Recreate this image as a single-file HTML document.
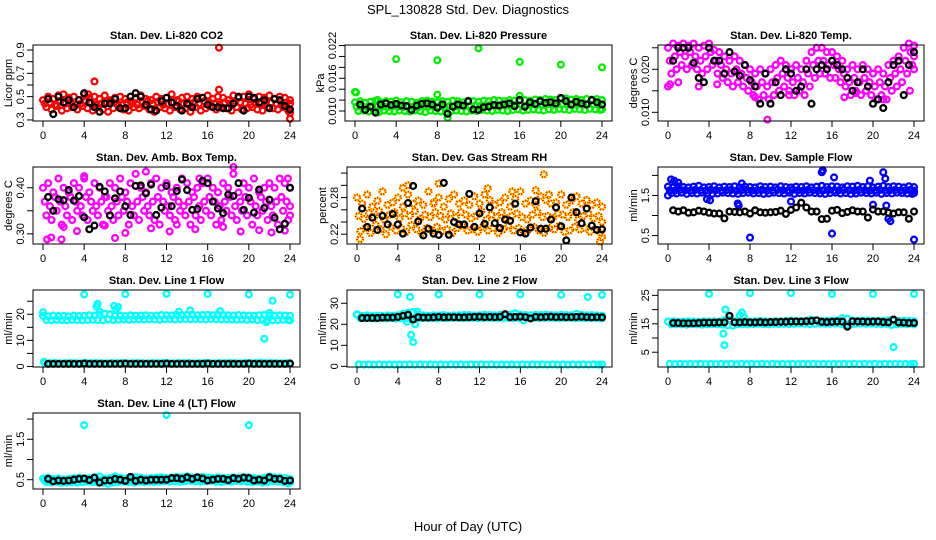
<!DOCTYPE html>
<html><head><meta charset="utf-8"><style>
html,body{margin:0;padding:0;background:#fff;width:936px;height:540px;overflow:hidden}
svg{display:block;font-family:"Liberation Sans",sans-serif}
</style></head><body>
<svg id="chart" width="936" height="540" viewBox="0 0 936 540">
<text x="468" y="14" font-size="13" text-anchor="middle">SPL_130828  Std. Dev. Diagnostics</text>
<text x="468" y="531" font-size="13" text-anchor="middle">Hour of Day (UTC)</text>
</svg>
<script>
// ---- data ----
const xTicks=[0,4,8,12,16,20,24];
// CO2
const co2A=[0.47,0.50,0.48,0.51,0.52,0.49,0.50,0.47,0.52,0.49,0.50,0.48,0.51,0.47,0.49,0.50,0.48,0.46,0.49,0.51,0.48,0.47,0.50,0.48,0.49,0.52,0.47,0.49,0.50,0.48,0.50,0.49,0.51,0.48,0.50,0.49,0.47,0.51,0.49,0.50,0.52,0.48,0.50,0.49,0.51,0.48,0.50,0.49,0.47];
const co2B=[0.41,0.39,0.42,0.38,0.40,0.41,0.39,0.42,0.40,0.38,0.41,0.39,0.37,0.40,0.42,0.39,0.38,0.41,0.40,0.42,0.39,0.37,0.41,0.40,0.38,0.41,0.39,0.40,0.37,0.41,0.38,0.40,0.42,0.39,0.41,0.40,0.38,0.41,0.39,0.40,0.41,0.39,0.38,0.41,0.40,0.39,0.41,0.38,0.36];
const co2C=[0.44,0.45,0.43,0.46,0.44,0.45,0.43,0.44,0.46,0.45,0.43,0.44,0.45,0.46,0.44,0.43,0.45,0.44,0.43,0.45,0.46,0.44,0.45,0.43,0.44,0.45,0.46,0.44,0.43,0.45,0.44,0.46,0.45,0.44,0.43,0.45,0.44,0.46,0.45,0.44,0.43,0.45,0.44,0.46,0.45,0.44,0.43,0.45,0.44];
const co2OutX=[5,17.1,17.1,24,4.4];
const co2OutY=[0.63,0.92,0.56,0.31,0.52];
const co2Black=[0.48,0.35,0.50,0.45,0.47,0.41,0.47,0.53,0.45,0.41,0.37,0.44,0.44,0.48,0.40,0.40,0.50,0.53,0.50,0.43,0.39,0.38,0.46,0.49,0.45,0.42,0.38,0.44,0.41,0.48,0.49,0.43,0.41,0.41,0.40,0.40,0.44,0.50,0.38,0.50,0.49,0.45,0.47,0.40,0.48,0.47,0.42,0.39];
// Pressure
const prsA=[0.0116,0.0118,0.0115,0.0117,0.0119,0.0116,0.0118,0.0117,0.0119,0.0116,0.0118,0.0117,0.0115,0.0118,0.0119,0.0117,0.0116,0.0118,0.0117,0.0119,0.0118,0.0116,0.0119,0.0118,0.0117,0.0119,0.0118,0.0120,0.0119,0.0118,0.0120,0.0119,0.0121,0.0120,0.0119,0.0121,0.0120,0.0122,0.0121,0.0120,0.0122,0.0123,0.0121,0.0122,0.0120,0.0122,0.0121,0.0122,0.0120];
const prsB=[0.0100,0.0101,0.0099,0.0100,0.0098,0.0101,0.0100,0.0099,0.0101,0.0100,0.0099,0.0101,0.0100,0.0098,0.0101,0.0100,0.0099,0.0098,0.0100,0.0101,0.0100,0.0099,0.0101,0.0100,0.0102,0.0101,0.0100,0.0102,0.0101,0.0100,0.0102,0.0103,0.0101,0.0102,0.0103,0.0102,0.0101,0.0103,0.0102,0.0104,0.0103,0.0102,0.0104,0.0103,0.0102,0.0104,0.0103,0.0102,0.0103];
const prsC=[0.0108,0.0109,0.0107,0.0108,0.0110,0.0108,0.0107,0.0109,0.0108,0.0107,0.0109,0.0108,0.0107,0.0109,0.0108,0.0110,0.0108,0.0107,0.0109,0.0108,0.0110,0.0109,0.0108,0.0110,0.0109,0.0110,0.0111,0.0109,0.0110,0.0111,0.0110,0.0112,0.0111,0.0110,0.0112,0.0111,0.0112,0.0113,0.0111,0.0112,0.0113,0.0112,0.0111,0.0113,0.0112,0.0113,0.0112,0.0111,0.0112];
const prsOutX=[0,4,8,8,12,16,16,20,24,2.2,9,0.1];
const prsOutY=[0.0135,0.0195,0.0193,0.0130,0.0215,0.0190,0.0128,0.0185,0.0180,0.0120,0.0088,0.0134];
const prsBlack=[0.0112,0.0102,0.0108,0.0097,0.0112,0.0114,0.0111,0.0113,0.0110,0.0109,0.0102,0.0110,0.0113,0.0114,0.0112,0.0106,0.0112,0.0095,0.0108,0.0112,0.0110,0.0118,0.0103,0.0102,0.0107,0.0108,0.0111,0.0110,0.0112,0.0114,0.0109,0.0120,0.0108,0.0116,0.0113,0.0118,0.0115,0.0116,0.0114,0.0124,0.0118,0.0112,0.0117,0.0114,0.0112,0.0120,0.0116,0.0112];
// Li-820 temp
const tmpA=[0.025,0.026,0.0255,0.026,0.0255,0.026,0.025,0.0255,0.026,0.0245,0.024,0.023,0.022,0.023,0.022,0.021,0.020,0.019,0.020,0.019,0.020,0.021,0.022,0.021,0.020,0.021,0.020,0.022,0.024,0.025,0.025,0.024,0.024,0.023,0.022,0.020,0.021,0.020,0.021,0.020,0.019,0.020,0.019,0.021,0.022,0.023,0.025,0.026,0.0255];
const tmpB=[0.019,0.020,0.021,0.020,0.021,0.020,0.019,0.020,0.021,0.019,0.018,0.017,0.016,0.017,0.016,0.015,0.014,0.013,0.014,0.013,0.014,0.015,0.016,0.015,0.014,0.015,0.014,0.016,0.018,0.019,0.019,0.018,0.018,0.017,0.016,0.014,0.015,0.014,0.015,0.014,0.013,0.014,0.013,0.015,0.016,0.017,0.019,0.021,0.020];
const tmpC=[0.022,0.023,0.024,0.023,0.024,0.023,0.022,0.023,0.024,0.022,0.021,0.020,0.019,0.020,0.019,0.018,0.017,0.016,0.017,0.016,0.017,0.018,0.019,0.018,0.017,0.018,0.017,0.019,0.021,0.022,0.022,0.021,0.021,0.020,0.019,0.017,0.018,0.017,0.018,0.017,0.016,0.017,0.016,0.018,0.019,0.020,0.022,0.024,0.023];
const tmpOutX=[9.7,0,0.2,1,21,18.3,17.2,8.5,11.8,23.6,4.8,3];
const tmpOutY=[0.0083,0.016,0.0165,0.017,0.013,0.0145,0.0135,0.0135,0.014,0.015,0.0165,0.016];
const tmpBlack=[0.022,0.025,0.025,0.025,0.0215,0.018,0.017,0.025,0.022,0.022,0.019,0.024,0.0195,0.0185,0.021,0.0175,0.016,0.012,0.019,0.012,0.017,0.014,0.020,0.019,0.015,0.016,0.020,0.012,0.020,0.021,0.020,0.022,0.021,0.020,0.018,0.015,0.017,0.020,0.016,0.012,0.013,0.011,0.017,0.021,0.022,0.014,0.021,0.024];
// Amb box temp
const ambA=[0.40,0.41,0.39,0.42,0.40,0.39,0.41,0.40,0.42,0.39,0.41,0.40,0.38,0.41,0.40,0.42,0.39,0.41,0.43,0.40,0.39,0.41,0.42,0.40,0.41,0.39,0.40,0.42,0.41,0.39,0.40,0.41,0.42,0.40,0.39,0.41,0.40,0.43,0.39,0.41,0.40,0.42,0.39,0.40,0.41,0.40,0.42,0.41,0.40];
const ambB=[0.34,0.33,0.35,0.32,0.34,0.33,0.35,0.34,0.33,0.35,0.34,0.32,0.35,0.33,0.34,0.35,0.32,0.34,0.33,0.35,0.34,0.33,0.32,0.35,0.34,0.33,0.35,0.34,0.32,0.34,0.33,0.35,0.34,0.32,0.33,0.35,0.34,0.33,0.35,0.34,0.32,0.34,0.35,0.33,0.34,0.32,0.35,0.33,0.34];
const ambC=[0.37,0.36,0.38,0.37,0.36,0.38,0.37,0.36,0.38,0.37,0.36,0.37,0.38,0.36,0.37,0.38,0.37,0.36,0.37,0.38,0.36,0.37,0.38,0.37,0.36,0.38,0.37,0.36,0.37,0.38,0.36,0.37,0.38,0.37,0.36,0.37,0.38,0.36,0.37,0.38,0.37,0.36,0.38,0.37,0.36,0.37,0.38,0.37,0.36];
const ambOutX=[0.4,0.8,1.8,2,3.3,4,7,8,10,10.5,12.3,14.8,15.2,17.5,18.5,19.2,21,22.2,23.5,23.8,6,13];
const ambOutY=[0.288,0.292,0.288,0.315,0.306,0.425,0.291,0.302,0.435,0.312,0.305,0.310,0.420,0.315,0.445,0.305,0.308,0.303,0.307,0.420,0.318,0.320];
const ambBlack=[0.380,0.350,0.375,0.373,0.395,0.372,0.382,0.336,0.310,0.318,0.402,0.392,0.340,0.377,0.392,0.360,0.341,0.404,0.405,0.388,0.407,0.341,0.357,0.404,0.360,0.393,0.418,0.395,0.352,0.354,0.415,0.410,0.370,0.355,0.345,0.385,0.382,0.410,0.352,0.378,0.346,0.396,0.356,0.374,0.335,0.310,0.322,0.400];
// Gas stream RH
const rhA=[0.280,0.270,0.285,0.265,0.275,0.290,0.268,0.272,0.280,0.265,0.285,0.270,0.275,0.268,0.290,0.272,0.280,0.265,0.278,0.285,0.270,0.275,0.268,0.282,0.270,0.285,0.276,0.268,0.272,0.280,0.265,0.278,0.290,0.270,0.275,0.268,0.282,0.276,0.270,0.272,0.285,0.268,0.275,0.282,0.270,0.276,0.268,0.272,0.265];
const rhB=[0.225,0.230,0.222,0.235,0.228,0.220,0.232,0.226,0.230,0.224,0.235,0.228,0.222,0.230,0.226,0.232,0.225,0.228,0.222,0.230,0.234,0.226,0.228,0.224,0.232,0.226,0.230,0.222,0.228,0.234,0.226,0.230,0.224,0.228,0.232,0.226,0.222,0.230,0.228,0.234,0.224,0.226,0.232,0.228,0.230,0.224,0.228,0.222,0.215];
const rhC=[0.250,0.245,0.255,0.248,0.258,0.244,0.252,0.256,0.246,0.254,0.250,0.258,0.245,0.252,0.248,0.256,0.250,0.244,0.254,0.248,0.256,0.252,0.246,0.250,0.258,0.244,0.252,0.248,0.256,0.246,0.250,0.254,0.248,0.244,0.252,0.256,0.248,0.250,0.246,0.254,0.252,0.248,0.256,0.244,0.250,0.254,0.246,0.250,0.240];
const rhOutX=[0.3,4.5,5,7.5,8,12.8,15.2,17.5,18.3,18.8,23.8];
const rhOutY=[0.212,0.296,0.300,0.270,0.303,0.295,0.290,0.292,0.318,0.285,0.208];
const rhBlack=[0.262,0.232,0.247,0.227,0.250,0.236,0.253,0.236,0.221,0.271,0.299,0.241,0.218,0.229,0.221,0.219,0.304,0.219,0.240,0.236,0.236,0.286,0.232,0.254,0.237,0.264,0.238,0.230,0.244,0.242,0.270,0.223,0.221,0.231,0.274,0.229,0.229,0.244,0.264,0.233,0.210,0.280,0.256,0.238,0.262,0.234,0.227,0.228];
// Sample flow
const sfA=[1.72,1.70,1.73,1.71,1.70,1.72,1.74,1.70,1.71,1.73,1.70,1.72,1.71,1.73,1.70,1.72,1.71,1.70,1.73,1.71,1.72,1.70,1.73,1.71,1.70,1.72,1.71,1.73,1.70,1.72,1.74,1.71,1.73,1.72,1.70,1.73,1.72,1.74,1.71,1.73,1.70,1.72,1.74,1.71,1.73,1.72,1.70,1.73,1.71];
const sfB=[1.56,1.55,1.57,1.54,1.56,1.55,1.57,1.56,1.54,1.55,1.57,1.56,1.55,1.54,1.56,1.57,1.55,1.56,1.54,1.55,1.57,1.56,1.55,1.57,1.54,1.56,1.55,1.57,1.56,1.55,1.54,1.56,1.57,1.55,1.56,1.54,1.55,1.57,1.56,1.55,1.57,1.54,1.56,1.55,1.57,1.56,1.55,1.54,1.56];
const sfC=[1.63,1.62,1.64,1.63,1.62,1.64,1.63,1.62,1.64,1.63,1.62,1.63,1.64,1.62,1.63,1.64,1.62,1.63,1.64,1.62,1.63,1.64,1.63,1.62,1.64,1.63,1.62,1.64,1.63,1.62,1.63,1.64,1.62,1.63,1.64,1.63,1.62,1.64,1.63,1.62,1.63,1.64,1.62,1.63,1.64,1.62,1.63,1.64,1.62];
const sfOutX=[0,0.3,0.6,1,3.8,4.1,6.8,6.9,7.2,8,12,15,15.1,16,16.2,19.7,20,21,21.2,21.3,21.5,21.7,24];
const sfOutY=[1.50,1.90,1.87,1.82,1.41,1.38,1.30,1.25,1.80,0.45,1.35,2.08,2.13,0.55,1.95,1.87,1.27,2.08,1.92,1.25,0.92,0.86,0.40];
const sfBlack=[1.13,1.10,1.13,1.07,1.08,1.12,1.10,1.07,1.05,1.05,0.93,1.10,1.09,1.08,1.10,1.05,1.13,1.08,1.07,1.08,1.09,1.12,1.04,1.14,1.20,1.32,1.20,1.10,1.10,0.91,0.92,1.12,1.14,1.06,1.09,1.13,1.10,1.10,0.95,1.15,1.10,1.10,1.07,1.05,1.08,1.08,0.92,1.10];
// Line 1 flow
const l1A=[19.4,19.2,19.5,19.3,19.4,19.2,19.5,19.3,19.4,19.6,19.5,19.8,20.2,20.0,19.4,19.5,19.3,19.6,19.4,19.5,19.6,19.4,19.5,19.7,19.6,19.5,19.8,19.6,19.7,19.9,19.6,19.7,19.8,19.6,19.8,19.7,19.6,19.5,19.7,19.6,19.5,19.4,19.6,19.7,19.5,19.4,19.6,19.5,19.4];
const l1B=[17.8,17.7,17.9,17.8,17.7,17.9,17.8,17.7,17.8,17.9,17.8,17.7,18.0,17.8,17.9,18.0,17.9,18.0,18.1,18.0,18.1,18.0,17.9,18.1,18.2,18.0,18.1,18.2,18.1,18.2,18.1,18.0,18.2,18.1,18.0,18.1,18.0,17.9,18.0,17.9,18.0,17.8,17.9,17.6,17.7,17.8,17.9,17.8,17.7];
const l1C=[1.4,1.3,1.4,1.2,1.3,1.4,1.3,1.2,1.4,1.3,1.4,1.3,1.2,1.4,1.3,1.4,1.2,1.3,1.4,1.3,1.2,1.4,1.3,1.4,1.3,1.2,1.4,1.3,1.4,1.2,1.3,1.4,1.3,1.2,1.4,1.3,1.4,1.3,1.2,1.4,1.3,1.4,1.5,1.3,1.4,1.3,1.2,1.3,1.2];
const l1OutX=[0,4,8,12,16,20,24,5.2,5.3,5.5,6.9,7.1,7.3,13.2,14.3,17.2,21.5,21.7,22.0,22.3,0.1];
const l1OutY=[20.8,27.6,27.7,27.8,27.8,27.6,27.5,23.0,24.0,21.0,23.2,22.0,22.8,21.0,21.5,21.2,10.6,17.0,20.5,25.2,1.8];
const l1Black=[1.0,1.0,1.0,1.0,1.0,1.0,1.0,1.1,1.0,1.0,1.0,1.0,1.0,1.0,1.0,1.1,1.0,1.0,1.0,1.0,1.0,1.0,1.0,1.1,1.0,1.0,1.0,1.0,1.0,1.0,1.0,1.1,1.0,1.0,1.0,1.0,1.0,1.0,1.0,1.1,1.0,1.0,1.0,1.0,1.0,1.0,1.0,1.1];
// Line 2 flow
const l2A=[24.5,24.0,24.2,23.9,24.1,24.0,24.2,24.1,24.3,25.0,25.5,25.8,24.5,24.2,24.1,24.3,24.2,24.4,24.1,24.2,24.3,24.5,24.4,24.2,24.3,24.6,24.4,24.3,24.5,24.4,24.6,25.2,24.5,24.4,24.3,24.5,24.4,24.6,24.4,24.3,24.5,24.4,24.3,25.0,24.5,24.3,24.4,24.2,24.1];
const l2B=[22.9,22.8,22.9,22.7,22.9,22.8,22.9,22.7,22.8,22.9,23.0,22.8,22.9,23.0,22.9,22.8,23.0,22.9,23.0,23.1,22.9,23.0,23.1,22.9,23.0,23.1,22.9,23.0,23.1,23.0,22.9,23.0,21.8,23.0,23.1,22.9,23.0,23.1,23.0,22.9,23.0,23.1,22.9,23.0,22.9,23.0,22.9,22.8,22.9];
const l2C=[0.9,0.8,0.9,0.8,0.9,0.8,0.9,0.8,0.9,0.8,0.9,0.8,0.9,0.8,0.9,0.8,0.9,0.8,0.9,0.8,0.9,0.8,0.9,0.8,0.9,0.8,0.9,0.8,0.9,0.8,0.9,0.8,0.9,0.8,0.9,0.8,0.9,0.8,0.9,0.8,0.9,0.8,0.9,0.8,0.9,0.8,0.9,0.8,0.9];
const l2OutX=[0,4,8,12,16,20,22.6,24,5.2,5.3,5.5,5.7,5.9,4.9];
const l2OutY=[24.8,34.2,34.2,34.2,34.2,34.0,33.0,34.0,33.0,15.0,11.5,20.0,26.0,21.2];
const l2Black=[23.0,23.0,23.0,23.0,23.2,23.2,23.2,23.5,24.0,24.5,22.3,23.4,23.2,23.2,23.3,23.5,23.3,23.4,23.4,23.3,23.3,23.4,23.5,23.6,23.4,23.5,23.4,23.5,24.8,23.4,23.5,23.6,23.4,22.8,23.5,23.4,23.5,23.6,23.4,23.5,23.4,23.4,23.5,23.6,23.4,23.3,23.4,23.3];
// Line 3 flow
const l3A=[15.8,15.9,15.7,15.8,15.9,15.8,15.7,15.9,15.8,15.9,15.8,16.3,16.5,15.9,15.8,15.9,15.8,15.9,16.0,15.9,15.8,16.0,15.9,16.0,16.1,16.0,15.9,16.1,16.5,16.2,16.1,16.0,16.1,16.2,17.0,16.8,16.1,16.0,16.1,16.2,16.0,16.1,16.0,16.2,16.1,16.0,16.1,16.0,15.9];
const l3B=[14.8,14.9,14.8,14.7,14.9,14.8,14.7,14.8,14.9,14.8,14.7,14.5,14.3,14.8,14.9,14.8,14.9,15.0,14.9,14.8,15.0,14.9,15.0,14.9,15.0,15.1,15.0,14.9,15.0,15.1,15.0,15.0,15.1,15.0,14.5,14.8,15.0,15.1,15.0,15.1,15.0,14.9,15.0,14.6,14.8,15.0,14.9,15.0,14.8];
const l3C=[0.9,0.8,0.9,0.8,0.9,0.8,0.9,0.8,0.9,0.8,0.9,0.8,0.9,0.8,0.9,0.8,0.9,0.8,0.9,0.8,0.9,0.8,0.9,0.8,0.9,0.8,0.9,0.8,0.9,0.8,0.9,0.8,0.9,0.8,0.9,0.8,0.9,0.8,0.9,0.8,0.9,0.8,0.9,0.8,0.9,0.8,0.9,0.8,0.9];
const l3OutX=[4,8,12,16,20,24,5.4,5.5,5.6,7.0,7.2,7.4,22.0];
const l3OutY=[25.5,25.8,25.8,25.5,25.5,25.5,11.5,7.5,20.0,18.0,19.0,17.5,6.8];
const l3Black=[15.3,15.3,15.2,15.2,15.2,15.3,15.4,15.4,15.4,15.5,15.5,17.8,15.5,15.5,15.6,15.5,15.5,15.6,15.5,15.6,15.6,15.7,15.7,15.8,15.8,15.8,15.9,16.0,16.2,15.7,15.6,15.7,15.8,15.8,14.0,15.9,15.8,15.8,15.7,15.8,15.8,15.6,15.5,16.5,15.5,15.4,15.3,15.3];
// Line 4 flow
const l4A=[0.53,0.55,0.52,0.53,0.51,0.52,0.54,0.55,0.53,0.54,0.56,0.58,0.52,0.54,0.58,0.55,0.53,0.54,0.56,0.55,0.53,0.54,0.55,0.56,0.54,0.55,0.57,0.56,0.58,0.56,0.55,0.57,0.55,0.54,0.56,0.55,0.54,0.56,0.55,0.57,0.56,0.54,0.53,0.55,0.58,0.56,0.55,0.54,0.52];
const l4B=[0.44,0.43,0.44,0.42,0.43,0.44,0.43,0.44,0.45,0.44,0.43,0.42,0.40,0.43,0.44,0.45,0.44,0.43,0.45,0.44,0.45,0.44,0.45,0.46,0.45,0.46,0.45,0.46,0.47,0.46,0.45,0.46,0.47,0.45,0.44,0.46,0.45,0.47,0.46,0.45,0.44,0.45,0.43,0.44,0.46,0.45,0.44,0.41,0.43];
const l4C=[0.48,0.49,0.47,0.48,0.49,0.48,0.49,0.50,0.49,0.48,0.49,0.50,0.47,0.48,0.50,0.49,0.48,0.49,0.50,0.49,0.48,0.49,0.50,0.51,0.50,0.51,0.50,0.51,0.52,0.51,0.50,0.51,0.52,0.50,0.49,0.51,0.50,0.52,0.51,0.50,0.49,0.50,0.49,0.50,0.52,0.51,0.50,0.48,0.47];
const l4OutX=[4,12,20];
const l4OutY=[1.85,2.10,1.85];
const l4Black=[0.52,0.46,0.48,0.47,0.48,0.50,0.52,0.53,0.49,0.55,0.43,0.48,0.48,0.52,0.50,0.47,0.57,0.47,0.50,0.48,0.50,0.50,0.50,0.50,0.54,0.54,0.52,0.56,0.52,0.56,0.53,0.48,0.50,0.52,0.52,0.49,0.54,0.52,0.55,0.54,0.48,0.50,0.48,0.56,0.52,0.52,0.47,0.48];

// ---- layout ----
const panels=[
 {name:'co2',title:'Stan. Dev. Li-820 CO2',yl:'Licor ppm',L:33,R:300,T:45,B:121,ymin:0.291,ymax:0.943,ticks:[0.3,0.4,0.5,0.6,0.7,0.8,0.9],labels:['0.3','','0.5','','0.7','','0.9'],col:'#ff0000',A:co2A,Bv:co2B,C:co2C,ox:co2OutX,oy:co2OutY,k:co2Black},
 {name:'pressure',title:'Stan. Dev. Li-820 Pressure',yl:'kPa',L:345,R:612,T:45,B:121,ymin:0.00817,ymax:0.0221,ticks:[0.010,0.012,0.014,0.016,0.018,0.020,0.022],labels:['0.010','','','0.016','','','0.022'],col:'#00ee00',A:prsA,Bv:prsB,C:prsC,ox:prsOutX,oy:prsOutY,k:prsBlack},
 {name:'li820-temp',title:'Stan. Dev. Li-820 Temp.',yl:'degrees C',L:658,R:924,T:45,B:121,ymin:0.00798,ymax:0.02565,ticks:[0.010,0.015,0.020,0.025],labels:['0.010','','0.020',''],col:'#ff00ff',A:tmpA,Bv:tmpB,C:tmpC,ox:tmpOutX,oy:tmpOutY,k:tmpBlack},
 {name:'amb-box-temp',title:'Stan. Dev. Amb. Box Temp.',yl:'degrees C',L:33,R:300,T:167,B:244,ymin:0.278,ymax:0.445,ticks:[0.30,0.35,0.40],labels:['0.30','','0.40'],col:'#ff00ff',A:ambA,Bv:ambB,C:ambC,ox:ambOutX,oy:ambOutY,k:ambBlack},
 {name:'gas-stream-rh',title:'Stan. Dev. Gas Stream RH',yl:'percent',L:347,R:612,T:167,B:244,ymin:0.204,ymax:0.330,ticks:[0.22,0.24,0.26,0.28,0.30,0.32],labels:['0.22','','','0.28','',''],col:'rh',A:rhA,Bv:rhB,C:rhC,ox:rhOutX,oy:rhOutY,k:rhBlack},
 {name:'sample-flow',title:'Stan. Dev. Sample Flow',yl:'ml/min',L:658,R:924,T:167,B:244,ymin:0.29,ymax:2.21,ticks:[0.5,1.0,1.5,2.0],labels:['0.5','','1.5',''],col:'#0000ff',A:sfA,Bv:sfB,C:sfC,ox:sfOutX,oy:sfOutY,k:sfBlack},
 {name:'line1-flow',title:'Stan. Dev. Line 1 Flow',yl:'ml/min',L:33,R:300,T:290,B:367,ymin:-0.2,ymax:29.3,ticks:[0,5,10,15,20,25],labels:['0','','10','','20',''],col:'#00ffff',A:l1A,Bv:l1B,C:l1C,ox:l1OutX,oy:l1OutY,k:l1Black},
 {name:'line2-flow',title:'Stan. Dev. Line 2 Flow',yl:'ml/min',L:347,R:612,T:290,B:367,ymin:-0.3,ymax:36.3,ticks:[0,10,20,30],labels:['0','10','20','30'],col:'#00ffff',A:l2A,Bv:l2B,C:l2C,ox:l2OutX,oy:l2OutY,k:l2Black},
 {name:'line3-flow',title:'Stan. Dev. Line 3 Flow',yl:'ml/min',L:658,R:924,T:290,B:367,ymin:-0.2,ymax:26.9,ticks:[5,10,15,20,25],labels:['5','','15','','25'],col:'#00ffff',A:l3A,Bv:l3B,C:l3C,ox:l3OutX,oy:l3OutY,k:l3Black},
 {name:'line4-flow',title:'Stan. Dev. Line 4 (LT) Flow',yl:'ml/min',L:33,R:300,T:413,B:489,ymin:0.27,ymax:2.15,ticks:[0.5,1.0,1.5,2.0],labels:['0.5','','1.5',''],col:'#00ffff',A:l4A,Bv:l4B,C:l4C,ox:l4OutX,oy:l4OutY,k:l4Black}
];
const NS='http://www.w3.org/2000/svg';
const svg=document.getElementById('chart');
function mk(tag,attrs,parent){const e=document.createElementNS(NS,tag);for(const a in attrs)e.setAttribute(a,attrs[a]);parent.appendChild(e);return e;}
function pt(g,x,y,color){
  if(color==='rh'){
    const c1=mk('circle',{cx:x,cy:y,r:2.9,fill:'none',stroke:'#ffee00','stroke-width':2.3},g);
    
    
    const c2=mk('circle',{cx:x,cy:y,r:2.9,fill:'none',stroke:'#ff2200','stroke-width':2.3,'stroke-dasharray':'1.2 1.4'},g);
    
    
  } else {
    const c=mk('circle',{cx:x,cy:y,r:2.9,fill:'none',stroke:color,'stroke-width':2.3},g);
    
    
  }
}
panels.forEach(p=>{
  const g=mk('g',{},svg);
  
  
  const x0=p.L+10,x1=p.R-10;
  const sx=v=>x0+(x1-x0)*v/24;
  const sy=v=>p.B-(p.B-p.T)*(v-p.ymin)/(p.ymax-p.ymin);
  const t=mk('text',{x:(p.L+p.R)/2,y:p.T-6,'font-size':11,'font-weight':'bold','text-anchor':'middle'},g);
  t.textContent=p.title;
  
  
  const yl=mk('text',{transform:`translate(${p.L-21},${(p.T+p.B)/2}) rotate(-90)`,'font-size':11,'text-anchor':'middle'},g);
  yl.textContent=p.yl;
  
  
  const pg=mk('g',{},g);
  
  
  p.A.forEach((v,i)=>pt(pg,sx(i*0.5),sy(v),p.col));
  p.C.forEach((v,i)=>pt(pg,sx(Math.min(24,i*0.5+0.17)),sy(v),p.col));
  p.Bv.forEach((v,i)=>pt(pg,sx(Math.min(24,i*0.5+0.33)),sy(v),p.col));
  p.ox.forEach((v,i)=>pt(pg,sx(v),sy(p.oy[i]),p.col));
  p.k.forEach((v,i)=>pt(pg,sx(0.5+i*0.5),sy(v),'#000'));
  const bx=mk('rect',{x:p.L,y:p.T,width:p.R-p.L,height:p.B-p.T,fill:'none',stroke:'#000','stroke-width':1},g);
  
  
  p.ticks.forEach((v,i)=>{
    const y=sy(v);
    const tk=mk('line',{x1:p.L-6,x2:p.L,y1:y,y2:y,stroke:'#000'},g);
    
    
    if(p.labels[i]){
      const tl=mk('text',{transform:`translate(${p.L-9},${y}) rotate(-90)`,'font-size':11,'text-anchor':'middle'},g);
      tl.textContent=p.labels[i];
      
      
    }
  });
  xTicks.forEach(v=>{
    const x=sx(v);
    const tk=mk('line',{x1:x,x2:x,y1:p.B,y2:p.B+6,stroke:'#000'},g);
    
    
    const tl=mk('text',{x:x,y:p.B+18,'font-size':11,'text-anchor':'middle'},g);
    tl.textContent=String(v);
    
    
  });
});
</script>
</body></html>
